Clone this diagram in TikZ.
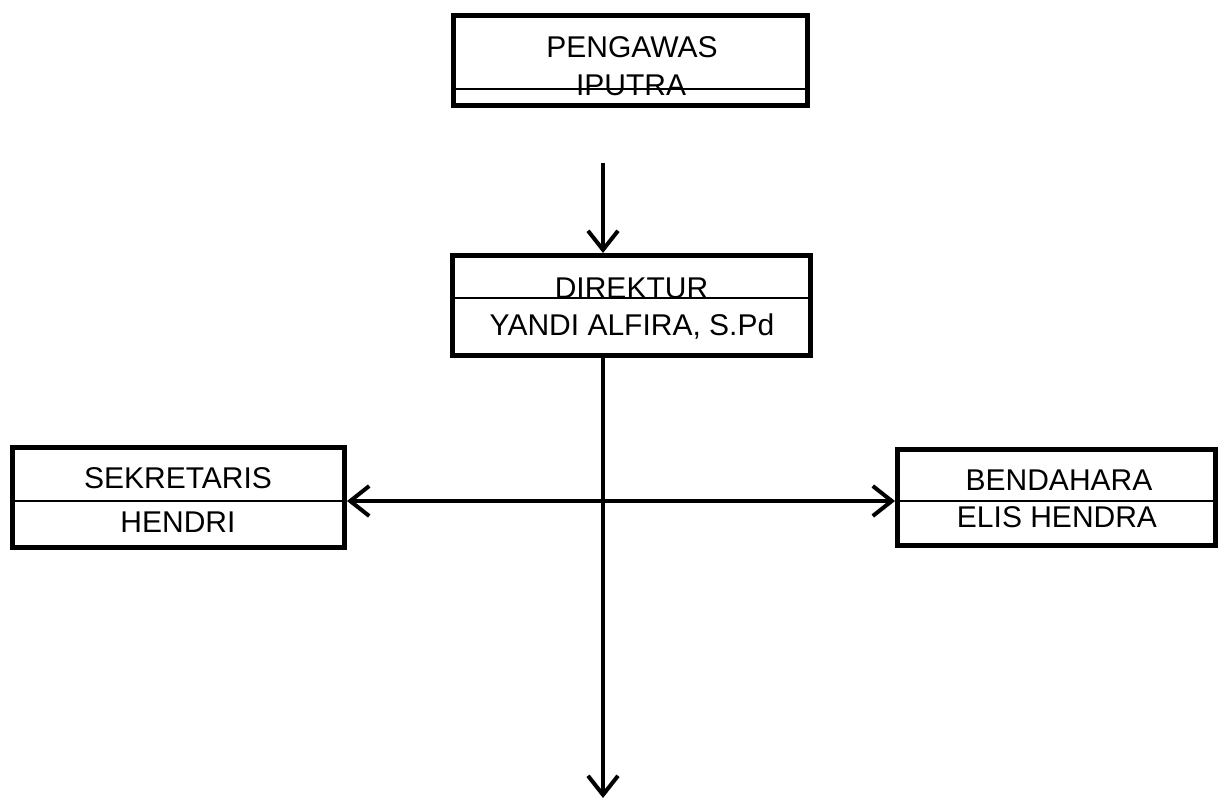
\documentclass[tikz,border=0pt]{standalone}
\usepackage{fontspec}
\setmainfont{Liberation Sans}
\usetikzlibrary{arrows.meta,calc}
\begin{document}
\begin{tikzpicture}[x=1pt,y=-1pt,
  box/.style={draw, line width=5pt, rectangle, inner sep=0pt},
  divider/.style={line width=1.6pt},
  lbl/.style={anchor=base, inner sep=0pt, font=\fontsize{30}{33}\selectfont},
  conn/.style={line width=4pt},
  hd/.tip={Straight Barb[length=19pt,width=30pt]}
]
\useasboundingbox (0,0) rectangle (1219,801);
% boxes
\node[box, minimum width=354pt, minimum height=90pt] (peng) at (630.5,60.5) {};
\node[box, minimum width=358pt, minimum height=100pt] (dir) at (631.5,305.5) {};
\node[box, minimum width=332pt, minimum height=100pt] (sek) at (178.5,497.5) {};
\node[box, minimum width=318pt, minimum height=96pt] (ben) at (1056.5,497.5) {};
% dividers
\draw[divider] (peng.west |- 0,89) -- (peng.east |- 0,89);
\draw[divider] (dir.west |- 0,298) -- (dir.east |- 0,298);
\draw[divider] (sek.west |- 0,501) -- (sek.east |- 0,501);
\draw[divider] (ben.west |- 0,501) -- (ben.east |- 0,501);
% labels
\node[lbl] (t1) at (632,57) {PENGAWAS};
\node[lbl] (t2) at (631,95) {IPUTRA};
\node[lbl] (t3) at (631.5,298) {DIREKTUR};
\node[lbl] (t4) at (632,335) {YANDI ALFIRA, S.Pd};
\node[lbl] (t5) at (178,488) {SEKRETARIS};
\node[lbl] (t6) at (178,532) {HENDRI};
\node[lbl] (t7) at (1059,490) {BENDAHARA};
\node[lbl] (t8) at (1057,527) {ELIS HENDRA};
% connectors
\coordinate (top) at (603,163);
\coordinate (bot) at (603,798);
\coordinate (h) at (603,501);
\draw[conn, -hd] (top) -- (dir.north -| top);
\draw[conn, -hd] (dir.south -| top) -- (bot);
\draw[conn, hd-hd] (sek.east |- h) -- (ben.west |- h);
\end{tikzpicture}
\end{document}
